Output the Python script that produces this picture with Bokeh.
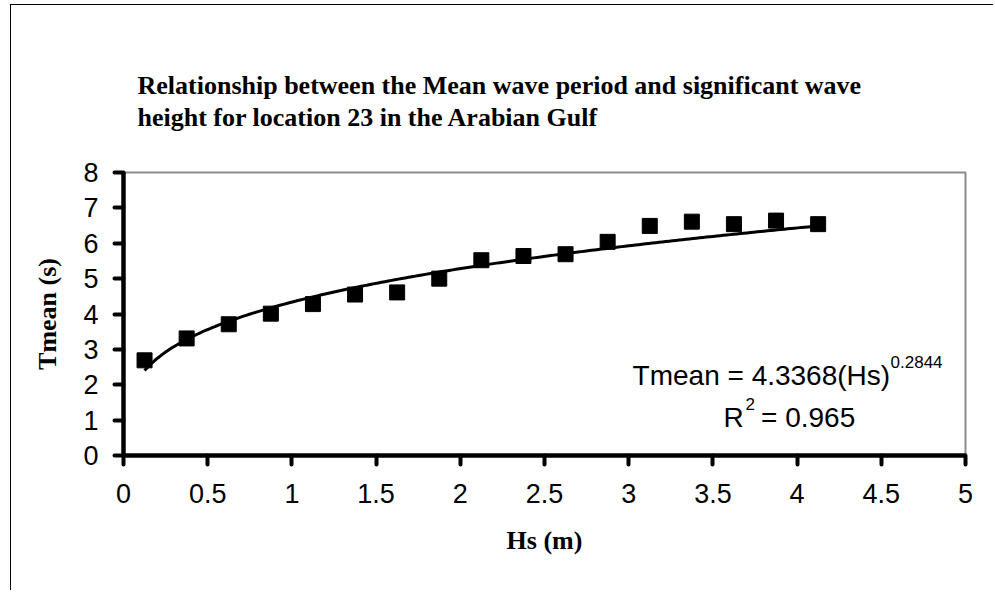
import numpy as np
from bokeh.plotting import figure
from bokeh.models import Range1d, FixedTicker, Label
from bokeh.embed import file_html
from bokeh.resources import INLINE

# ---- data ----
HS = [0.125, 0.375, 0.625, 0.875, 1.125, 1.375, 1.625, 1.875, 2.125,
      2.375, 2.625, 2.875, 3.125, 3.375, 3.625, 3.875, 4.125]
TMEAN = [2.69, 3.31, 3.71, 4.01, 4.28, 4.55, 4.61, 5.00, 5.52,
         5.64, 5.69, 6.04, 6.49, 6.61, 6.54, 6.64, 6.54]
FIT_A = 4.3368
FIT_B = 0.2844
R2 = 0.965
X_TICKS = [0, 0.5, 1, 1.5, 2, 2.5, 3, 3.5, 4, 4.5, 5]
X_TICK_LABELS = ["0", "0.5", "1", "1.5", "2", "2.5", "3", "3.5", "4", "4.5", "5"]
Y_TICKS = [0, 1, 2, 3, 4, 5, 6, 7, 8]
TITLE = ("Relationship between the Mean wave period and significant wave\n"
         "height for location 23 in the Arabian Gulf")

# trendline from the fitted power law shown on the chart
fit_x = np.linspace(min(HS), max(HS), 200)
fit_y = FIT_A * fit_x ** FIT_B

W, H = 983, 586
p = figure(width=W, height=H, output_backend="svg", toolbar_location=None,
           x_range=Range1d(0, 5), y_range=Range1d(0, 8),
           min_border_left=112, min_border_right=29,
           min_border_top=167, min_border_bottom=136,
           background_fill_color="white", border_fill_color="white")
p.styles = {"border-left": "1px solid black", "border-top": "1px solid black",
            "margin-left": "10px", "margin-top": "4px"}

p.title.text = TITLE
p.title.text_font = "Liberation Serif"
p.title.text_font_size = "26px"
p.title.text_font_style = "bold"
p.title.text_color = "black"
p.title.align = "left"
p.title.offset = 14
p.title.standoff = 80
p.title.text_line_height = 1.12

p.grid.visible = False
p.outline_line_color = "#8c8c8c"
p.outline_line_width = 2

for ax in (p.xaxis[0], p.yaxis[0]):
    ax.axis_line_color = "black"
    ax.axis_line_width = 4.5
    ax.major_tick_line_color = "black"
    ax.major_tick_line_width = 4
    ax.major_tick_line_cap = "round"
    ax.major_tick_out = 9
    ax.major_tick_in = 0
    ax.minor_tick_out = 0
    ax.minor_tick_in = 0
    ax.major_label_text_font = "Liberation Sans"
    ax.major_label_text_font_size = "27px"
    ax.major_label_text_color = "black"
    ax.axis_label_text_font = "Liberation Serif"
    ax.axis_label_text_font_size = "26px"
    ax.axis_label_text_font_style = "bold"
    ax.axis_label_text_color = "black"

p.xaxis.ticker = FixedTicker(ticks=X_TICKS)
p.xaxis.major_label_overrides = dict(zip(X_TICKS, X_TICK_LABELS))
p.xaxis.major_label_standoff = 19
p.xaxis.axis_label = "Hs (m)"
p.xaxis.axis_label_standoff = 20

p.yaxis.ticker = FixedTicker(ticks=Y_TICKS)
p.yaxis.major_label_standoff = 16
p.yaxis.axis_label = "Tmean (s)"
p.yaxis.axis_label_standoff = 18

p.scatter(HS, TMEAN, marker="square", size=15, fill_color="black",
          line_color="black")
p.line(fit_x, fit_y, line_color="black", line_width=3)

def lab(x, y, text, size):
    p.add_layout(Label(x=x, y=y, text=text, text_font="Liberation Sans",
                       text_font_size=size, text_color="black",
                       text_align="left", text_baseline="alphabetic"))

lab(3.023, 2.266, f"Tmean = {FIT_A}(Hs)", "28px")
lab(4.555, 2.64, f"{FIT_B}", "17px")
lab(3.563, 1.076, "R", "28px")
lab(3.694, 1.445, "2", "17px")
lab(3.786, 1.076, f"= {R2}", "28px")

open("out.html", "w").write(file_html(p, INLINE))
